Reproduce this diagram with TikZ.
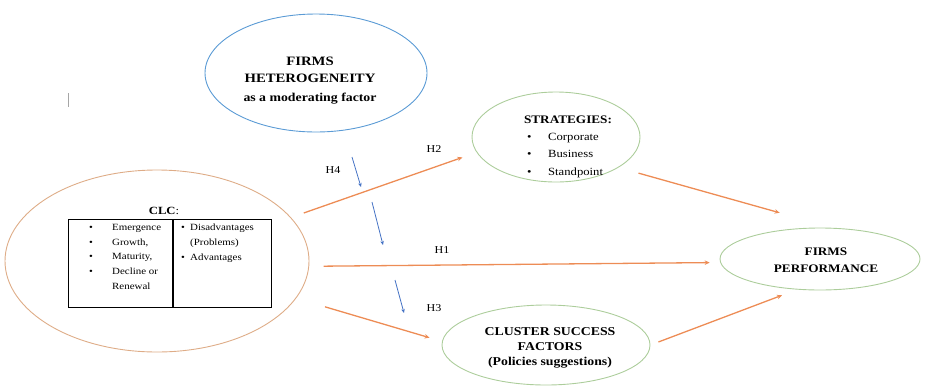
\documentclass[tikz,border=0pt]{standalone}
\usepackage{fontspec}
\setmainfont{Liberation Serif}[FakeStretch=1.15]
\usetikzlibrary{shapes.geometric,arrows.meta}
\definecolor{hetblue}{RGB}{91,155,213}
\definecolor{clctan}{RGB}{222,172,135}
\definecolor{ovgreen}{RGB}{172,205,155}
\definecolor{hyporange}{RGB}{237,140,85}
\definecolor{modblue}{RGB}{68,114,196}
\tikzset{
  factor/.style={ellipse, draw, inner sep=0pt, line width=0.9pt},
  hyp/.style={draw=hyporange, line width=1.3pt, -{Stealth[length=5pt,width=4.5pt]}},
  moder/.style={draw=modblue, line width=0.8pt, -{Stealth[length=4pt,width=3.5pt]}},
  title/.style={align=center, inner sep=0pt},
  hlabel/.style={font=\fontsize{10.5}{12}\selectfont, inner sep=0pt},
  list/.style={align=left, inner sep=0pt, anchor=north west}
}
\begin{document}
\begin{tikzpicture}[x=1pt,y=-1pt]
\useasboundingbox (0,0) rectangle (925,389);
\draw[gray!70, line width=0.8pt] (68,93) -- (68,107);

\node[factor, draw=hetblue, minimum width=222pt, minimum height=118pt] (het) at (316,73) {};
\node[title, font=\bfseries\fontsize{12.8}{17}\selectfont] (hettext) at (310,81)
  {FIRMS\\HETEROGENEITY\\[2pt]{\fontsize{12}{17}\selectfont as a moderating factor}};

\node[factor, draw=clctan, minimum width=304pt, minimum height=182pt] (clc) at (157,261) {};
\node[inner sep=0pt, font=\bfseries\fontsize{11}{13}\selectfont] (clctitle) at (164,211) {CLC\textmd{:}};
\node[draw, line width=0.6pt, inner sep=0pt, minimum width=104pt, minimum height=88pt, anchor=north west] (tabl) at (68,219) {};
\node[draw, line width=0.6pt, inner sep=0pt, minimum width=98pt, minimum height=88pt, anchor=north west] (tabr) at (tabl.north east) {};
\node[list, font=\fontsize{9.5}{14.7}\selectfont] (stages) at (89,224)
  {\makebox[23pt][l]{\textbullet}Emergence\\
   \makebox[23pt][l]{\textbullet}Growth,\\
   \makebox[23pt][l]{\textbullet}Maturity,\\
   \makebox[23pt][l]{\textbullet}Decline or\\
   \hspace*{23pt}Renewal};
\node[list, font=\fontsize{9.5}{14.7}\selectfont] (effects) at (181,224)
  {\makebox[9pt][l]{\textbullet}Disadvantages\\
   \hspace*{9pt}(Problems)\\
   \makebox[9pt][l]{\textbullet}Advantages};

\node[factor, draw=ovgreen, minimum width=168pt, minimum height=90pt] (strat) at (556,137) {};
\node[inner sep=0pt, font=\bfseries\fontsize{11.5}{13}\selectfont] (strattitle) at (568,120) {STRATEGIES:};
\node[list, font=\fontsize{11}{17.5}\selectfont] (levels) at (527,133)
  {\makebox[21pt][l]{\textbullet}Corporate\\
   \makebox[21pt][l]{\textbullet}Business\\
   \makebox[21pt][l]{\textbullet}Standpoint};

\node[factor, draw=ovgreen, minimum width=208pt, minimum height=80pt] (csf) at (546,345) {};
\node[title, font=\bfseries\fontsize{12}{15}\selectfont] (csftext) at (550,348)
  {CLUSTER SUCCESS\\FACTORS\\(Policies suggestions)};

\node[factor, draw=ovgreen, minimum width=200pt, minimum height=62pt] (perf) at (820,259) {};
\node[title, font=\bfseries\fontsize{11.5}{17}\selectfont] (perftext) at (826,260)
  {FIRMS\\PERFORMANCE};

\draw[hyp, shorten <=13.5pt, shorten >=15pt] (clc.18) -- (strat.191);
\draw[hyp, shorten <=14.5pt, shorten >=10.5pt] (clc.-2) -- (perf.182);
\draw[hyp, shorten <=30pt, shorten >=13pt] (clc.-15) -- (csf.178);
\draw[hyp, shorten <=20.7pt, shorten >=55.7pt] (strat.-26) -- (perf.67);
\draw[hyp, shorten <=8.5pt, shorten >=16pt] (csf.east) -- (perf.233);

\coordinate (m1a) at (352,157);
\coordinate (m1b) at (361,187);
\coordinate (m2a) at (372,202);
\coordinate (m2b) at (383,245);
\coordinate (m3a) at (395,280);
\coordinate (m3b) at (404,313);
\draw[moder] (m1a) -- (m1b);
\draw[moder] (m2a) -- (m2b);
\draw[moder] (m3a) -- (m3b);

\node[hlabel] (h4) at (333,170) {H4};
\node[hlabel] (h2) at (434,149) {H2};
\node[hlabel] (h1) at (442,250) {H1};
\node[hlabel] (h3) at (434,308) {H3};
\end{tikzpicture}
\end{document}
